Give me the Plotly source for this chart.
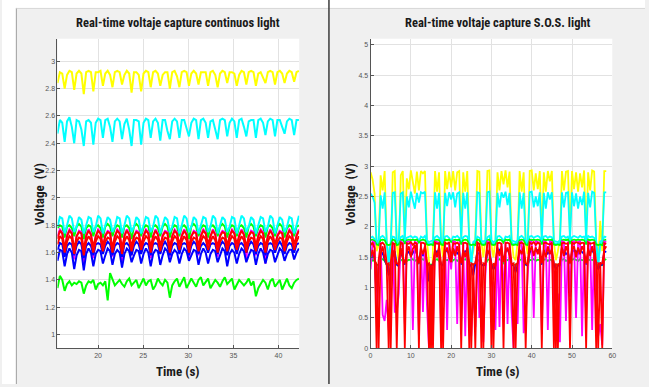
import plotly.graph_objects as go

# ---------------- continuous light capture (left) ----------------
CONT_T0 = 15.5
CONT_DT = 0.265

cont_yellow = [2.84,2.92,2.91,2.80, 2.90,2.93,2.92,2.79, 2.91,2.93,2.91,2.76, 2.92,2.93,2.92,2.78,
               2.92,2.92,2.93,2.82, 2.91,2.93,2.90,2.81, 2.92,2.93,2.92,2.83, 2.90,2.93,2.91,2.77,
               2.92,2.92,2.90,2.78, 2.91,2.93,2.92,2.81, 2.92,2.93,2.91,2.82, 2.90,2.92,2.92,2.80,
               2.92,2.93,2.89,2.81, 2.92,2.93,2.92,2.82, 2.91,2.93,2.91,2.83, 2.92,2.92,2.92,2.82,
               2.92,2.93,2.90,2.81, 2.91,2.93,2.92,2.84, 2.92,2.92,2.91,2.82, 2.90,2.93,2.92,2.83,
               2.92,2.93,2.92,2.82, 2.91,2.92,2.88,2.84, 2.92,2.93,2.92,2.83, 2.92,2.93,2.91,2.84,
               2.91,2.93,2.92,2.85, 2.92,2.93]
cont_cyan_hi = [2.47,2.57,2.55,2.41, 2.56,2.59,2.52,2.40, 2.57,2.56,2.50,2.38, 2.56,2.57,2.55,2.39,
                2.55,2.58,2.57,2.44, 2.57,2.58,2.52,2.41, 2.56,2.58,2.56,2.43, 2.54,2.58,2.50,2.38,
                2.57,2.57,2.56,2.39, 2.55,2.58,2.57,2.44, 2.56,2.58,2.55,2.42, 2.57,2.57,2.49,2.43,
                2.56,2.58,2.56,2.44, 2.57,2.57,2.51,2.45, 2.55,2.58,2.57,2.43, 2.57,2.58,2.55,2.44,
                2.56,2.57,2.50,2.43, 2.57,2.58,2.57,2.45, 2.55,2.58,2.56,2.44, 2.57,2.58,2.52,2.45,
                2.56,2.57,2.57,2.44, 2.57,2.58,2.55,2.46, 2.56,2.58,2.57,2.45, 2.57,2.57,2.52,2.47,
                2.56,2.58,2.57,2.46, 2.57,2.57]
cont_cyan_lo = [1.79,1.86,1.85,1.74, 1.80,1.87,1.85,1.75, 1.79,1.86,1.84,1.74, 1.80,1.86,1.85,1.75,
                1.79,1.87,1.85,1.74, 1.80,1.86,1.84,1.75, 1.79,1.86,1.85,1.74, 1.80,1.87,1.85,1.75,
                1.79,1.86,1.84,1.74, 1.80,1.86,1.85,1.75, 1.79,1.87,1.85,1.74, 1.80,1.86,1.84,1.75,
                1.79,1.86,1.85,1.74, 1.80,1.87,1.85,1.75, 1.79,1.86,1.84,1.74, 1.80,1.86,1.85,1.75,
                1.79,1.87,1.85,1.74, 1.80,1.86,1.84,1.75, 1.79,1.86,1.85,1.74, 1.80,1.87,1.85,1.75,
                1.79,1.86,1.84,1.74, 1.80,1.86,1.85,1.75, 1.79,1.87,1.85,1.74, 1.80,1.86,1.84,1.75,
                1.79,1.86,1.85,1.74, 1.80,1.87]
cont_green_hi = [1.78,1.80,1.79,1.71, 1.79,1.80,1.78,1.72, 1.79,1.81,1.79,1.70, 1.78,1.80,1.79,1.72,
                 1.79,1.80,1.78,1.71, 1.79,1.81,1.79,1.72, 1.78,1.80,1.79,1.71, 1.79,1.80,1.78,1.70,
                 1.79,1.81,1.79,1.72, 1.78,1.80,1.79,1.71, 1.79,1.80,1.78,1.72, 1.79,1.81,1.79,1.71,
                 1.78,1.80,1.79,1.72, 1.79,1.80,1.78,1.70, 1.79,1.81,1.79,1.72, 1.78,1.80,1.79,1.71,
                 1.79,1.80,1.78,1.72, 1.79,1.81,1.79,1.71, 1.78,1.80,1.79,1.72, 1.79,1.80,1.78,1.71,
                 1.79,1.81,1.79,1.72, 1.78,1.80,1.79,1.71, 1.79,1.80,1.78,1.72, 1.79,1.81,1.79,1.71,
                 1.78,1.80,1.79,1.72, 1.79,1.80]
cont_magenta = [1.72,1.77,1.75,1.58, 1.73,1.77,1.75,1.55, 1.72,1.76,1.75,1.52, 1.73,1.77,1.74,1.56,
                1.72,1.77,1.75,1.60, 1.73,1.76,1.75,1.57, 1.72,1.77,1.75,1.54, 1.73,1.77,1.74,1.58,
                1.72,1.76,1.75,1.61, 1.73,1.77,1.75,1.56, 1.72,1.77,1.74,1.59, 1.73,1.76,1.75,1.57,
                1.72,1.77,1.75,1.60, 1.73,1.77,1.74,1.55, 1.72,1.76,1.75,1.58, 1.73,1.77,1.75,1.61,
                1.72,1.77,1.74,1.57, 1.73,1.76,1.75,1.59, 1.72,1.77,1.75,1.60, 1.73,1.77,1.74,1.56,
                1.72,1.76,1.75,1.58, 1.73,1.77,1.75,1.52, 1.72,1.77,1.74,1.60, 1.73,1.76,1.75,1.59,
                1.72,1.77,1.75,1.61, 1.73,1.77]
cont_blue_hi = [1.62,1.67,1.66,1.57, 1.65,1.67,1.66,1.58, 1.65,1.68,1.66,1.56, 1.65,1.67,1.65,1.58,
                1.66,1.67,1.66,1.59, 1.65,1.68,1.66,1.58, 1.65,1.67,1.66,1.57, 1.66,1.67,1.65,1.58,
                1.65,1.68,1.66,1.59, 1.65,1.67,1.66,1.58, 1.66,1.67,1.66,1.59, 1.65,1.68,1.65,1.58,
                1.65,1.67,1.66,1.59, 1.66,1.67,1.66,1.58, 1.65,1.68,1.66,1.59, 1.65,1.67,1.65,1.60,
                1.66,1.67,1.66,1.59, 1.65,1.68,1.66,1.58, 1.65,1.67,1.66,1.59, 1.66,1.67,1.65,1.60,
                1.65,1.68,1.66,1.59, 1.65,1.67,1.66,1.58, 1.66,1.67,1.66,1.60, 1.65,1.68,1.65,1.59,
                1.65,1.67,1.66,1.60, 1.66,1.67]
cont_blue_lo = [1.54,1.62,1.61,1.50, 1.59,1.63,1.60,1.48, 1.58,1.62,1.61,1.47, 1.59,1.63,1.60,1.50,
                1.59,1.62,1.61,1.52, 1.58,1.63,1.61,1.51, 1.59,1.62,1.60,1.49, 1.59,1.63,1.61,1.53,
                1.58,1.62,1.61,1.52, 1.59,1.63,1.60,1.50, 1.59,1.62,1.61,1.51, 1.58,1.63,1.61,1.53,
                1.59,1.62,1.60,1.52, 1.59,1.63,1.61,1.54, 1.58,1.62,1.61,1.51, 1.59,1.63,1.60,1.52,
                1.59,1.62,1.61,1.53, 1.58,1.63,1.61,1.50, 1.59,1.62,1.60,1.52, 1.59,1.63,1.61,1.53,
                1.58,1.62,1.61,1.51, 1.59,1.63,1.60,1.52, 1.59,1.62,1.61,1.53, 1.58,1.63,1.61,1.54,
                1.59,1.62,1.62,1.55, 1.60,1.63]
cont_red_lo = [1.66,1.72,1.70,1.60, 1.68,1.72,1.70,1.59, 1.68,1.71,1.70,1.58, 1.68,1.72,1.69,1.60,
               1.68,1.72,1.70,1.61, 1.68,1.71,1.70,1.60, 1.68,1.72,1.70,1.59, 1.68,1.72,1.69,1.61,
               1.68,1.71,1.70,1.62, 1.68,1.72,1.70,1.60, 1.68,1.72,1.69,1.61, 1.68,1.71,1.70,1.60,
               1.68,1.72,1.70,1.62, 1.68,1.72,1.69,1.60, 1.68,1.71,1.70,1.61, 1.68,1.72,1.70,1.62,
               1.68,1.72,1.69,1.60, 1.68,1.71,1.70,1.61, 1.68,1.72,1.70,1.62, 1.68,1.72,1.69,1.60,
               1.68,1.71,1.70,1.61, 1.68,1.72,1.70,1.60, 1.68,1.72,1.69,1.62, 1.68,1.71,1.70,1.61,
               1.68,1.72,1.70,1.62, 1.68,1.72]
cont_red_hi = [1.70,1.76,1.74,1.63, 1.72,1.76,1.74,1.62, 1.72,1.75,1.74,1.62, 1.72,1.76,1.73,1.64,
               1.72,1.76,1.74,1.65, 1.72,1.75,1.74,1.63, 1.72,1.76,1.74,1.63, 1.72,1.76,1.73,1.64,
               1.72,1.75,1.74,1.65, 1.72,1.76,1.74,1.64, 1.72,1.76,1.73,1.65, 1.72,1.75,1.74,1.64,
               1.72,1.76,1.74,1.66, 1.72,1.76,1.73,1.64, 1.72,1.75,1.74,1.65, 1.72,1.76,1.74,1.66,
               1.72,1.76,1.73,1.64, 1.72,1.75,1.74,1.65, 1.72,1.76,1.74,1.66, 1.72,1.76,1.73,1.64,
               1.72,1.75,1.74,1.65, 1.72,1.76,1.74,1.64, 1.72,1.76,1.73,1.66, 1.72,1.75,1.74,1.65,
               1.72,1.76,1.74,1.66, 1.72,1.76]
cont_green_lo = [1.34,1.43,1.40,1.32,1.37,1.39,1.36,1.38,1.37,1.39,
                 1.38,1.30,1.36,1.39,1.38,1.40,1.33,1.37,1.38,1.36,
                 1.39,1.25,1.45,1.40,1.36,1.38,1.40,1.37,1.35,1.39,
                 1.41,1.36,1.38,1.40,1.34,1.37,1.41,1.36,1.39,1.40,
                 1.33,1.36,1.41,1.38,1.36,1.40,1.38,1.27,1.36,1.39,
                 1.41,1.35,1.38,1.42,1.34,1.37,1.41,1.38,1.35,1.40,
                 1.42,1.36,1.39,1.41,1.34,1.37,1.40,1.38,1.35,1.39,
                 1.42,1.37,1.39,1.41,1.33,1.36,1.40,1.38,1.36,1.38,
                 1.41,1.36,1.39,1.28,1.34,1.37,1.40,1.38,1.33,1.39,
                 1.41,1.35,1.38,1.40,1.33,1.37,1.41,1.36,1.34,1.38,
                 1.40,1.41]

# ---------------- S.O.S. light capture (right) ----------------
SOS_T0 = 0.0
SOS_DT = 0.5

sos_yellow = [2.90,2.78,2.55,1.60,1.70,2.85,2.60,2.92,1.75,1.50,
              1.45,2.90,2.92,1.70,1.40,2.85,2.92,1.80,2.80,2.62,
              2.93,2.70,2.55,2.91,2.60,2.92,2.88,2.92,1.75,1.45,
              0.00,1.70,2.92,2.58,2.90,1.75,1.50,2.92,2.62,2.91,
              2.65,2.92,2.60,2.90,2.92,1.80,2.90,2.58,2.92,1.75,
              1.45,1.60,1.80,2.92,2.91,1.75,1.50,1.80,2.92,2.93,
              1.70,1.50,1.78,2.90,2.60,2.92,2.70,2.93,2.65,2.91,
              1.80,1.50,1.45,1.75,2.92,2.58,2.90,1.75,1.55,2.92,
              2.93,2.60,2.88,2.62,2.92,1.80,2.90,2.58,2.92,2.75,
              2.92,1.75,1.45,1.60,1.80,2.92,2.60,2.91,2.92,1.85,
              2.92,2.62,2.90,2.58,2.88,2.65,2.93,1.80,2.90,2.60,
              2.93,2.91,1.75,1.45,2.10,1.60,2.92,2.92]
sos_cyan_hi = [2.55,2.50,2.40,1.75,1.78,2.52,2.30,2.57,1.78,1.35,
               1.75,2.56,2.57,1.76,1.78,2.55,2.57,1.80,2.50,2.32,
               2.58,2.45,2.30,2.56,2.40,2.57,2.55,2.58,1.78,1.75,
               1.76,1.78,2.57,2.30,2.56,1.77,1.76,2.56,2.34,2.57,
               2.45,2.57,2.32,2.55,2.57,1.80,2.56,2.30,2.57,1.78,
               1.40,1.75,1.78,2.57,2.56,1.77,1.76,1.78,2.57,2.58,
               1.78,1.75,1.77,2.56,2.32,2.57,2.48,2.58,2.36,2.56,
               1.78,1.76,1.75,1.78,2.57,2.30,2.56,1.77,1.76,2.57,
               2.58,2.32,2.50,2.34,2.57,1.78,2.56,2.30,2.57,2.45,
               2.57,1.77,1.76,1.75,1.78,2.57,2.32,2.56,2.57,1.80,
               2.57,2.34,2.55,2.30,2.50,2.36,2.58,1.78,2.56,2.32,
               2.58,2.56,1.77,1.35,1.76,1.78,2.57,2.57]
sos_cyan_lo = [1.82,1.84,1.80,1.74,1.73,1.83,1.85,1.82,1.74,1.45,
               1.73,1.84,1.83,1.74,1.72,1.83,1.85,1.75,1.82,1.84,
               1.85,1.82,1.84,1.83,1.76,1.84,1.82,1.85,1.74,1.73,
               1.72,1.74,1.83,1.85,1.82,1.74,1.73,1.84,1.85,1.82,
               1.76,1.84,1.83,1.85,1.82,1.74,1.83,1.85,1.84,1.74,
               1.40,1.73,1.74,1.84,1.82,1.74,1.72,1.74,1.83,1.85,
               1.74,1.72,1.73,1.84,1.85,1.82,1.76,1.84,1.83,1.85,
               1.74,1.72,1.73,1.74,1.83,1.85,1.82,1.74,1.73,1.84,
               1.85,1.82,1.84,1.85,1.83,1.74,1.84,1.85,1.82,1.84,
               1.83,1.74,1.72,1.73,1.74,1.84,1.85,1.82,1.84,1.75,
               1.83,1.85,1.84,1.82,1.85,1.83,1.84,1.74,1.85,1.83,
               1.84,1.82,1.74,1.38,1.72,1.74,1.84,1.83]
sos_green_hi = [1.78,1.79,1.77,1.71,1.70,1.78,1.79,1.78,1.71,1.70,
                1.71,1.79,1.78,1.70,1.71,1.78,1.79,1.72,1.78,1.79,
                1.78,1.79,1.78,1.79,1.74,1.78,1.79,1.78,1.71,1.70,
                1.71,1.70,1.78,1.79,1.78,1.71,1.70,1.79,1.78,1.79,
                1.75,1.78,1.79,1.78,1.79,1.71,1.78,1.79,1.78,1.71,
                1.70,1.71,1.70,1.79,1.78,1.71,1.70,1.71,1.78,1.79,
                1.71,1.70,1.71,1.78,1.79,1.78,1.74,1.79,1.78,1.79,
                1.71,1.70,1.71,1.70,1.78,1.79,1.78,1.71,1.70,1.79,
                1.78,1.79,1.78,1.79,1.78,1.71,1.79,1.78,1.79,1.78,
                1.79,1.71,1.70,1.71,1.70,1.78,1.79,1.78,1.79,1.73,
                1.78,1.79,1.78,1.79,1.78,1.79,1.78,1.71,1.79,1.78,
                1.79,1.78,1.71,1.70,1.71,1.70,1.78,1.79]
sos_green_lo = [1.42,1.45,1.44,1.38,1.37,1.45,1.47,1.44,1.38,1.37,
                1.38,1.46,1.44,1.38,1.37,1.45,1.46,1.38,1.44,1.46,
                1.45,1.47,1.44,1.46,1.40,1.45,1.47,1.44,1.38,1.37,
                1.38,1.37,1.45,1.47,1.44,1.38,1.37,1.46,1.45,1.47,
                1.41,1.45,1.47,1.44,1.46,1.38,1.45,1.47,1.44,1.38,
                1.37,1.38,1.37,1.46,1.44,1.38,1.37,1.38,1.45,1.47,
                1.38,1.37,1.38,1.45,1.47,1.44,1.40,1.46,1.45,1.47,
                1.38,1.37,1.38,1.37,1.45,1.47,1.44,1.38,1.37,1.46,
                1.45,1.47,1.44,1.46,1.45,1.38,1.46,1.47,1.44,1.46,
                1.45,1.38,1.37,1.38,1.37,1.46,1.47,1.44,1.45,1.40,
                1.46,1.47,1.45,1.44,1.47,1.45,1.46,1.38,1.47,1.45,
                1.46,1.44,1.38,1.37,1.38,1.37,1.45,1.47]
sos_blue = [1.40,1.55,1.50,0.80,1.38,1.52,1.58,1.45,1.38,1.20,
            1.36,1.55,1.60,1.38,1.35,1.58,1.50,1.38,1.55,1.60,
            1.52,1.58,1.62,1.55,1.40,1.60,1.52,1.58,1.38,1.10,
            1.36,1.38,1.56,1.60,1.52,1.38,1.36,1.58,1.62,1.55,
            1.45,1.58,1.62,1.56,1.60,1.38,1.55,1.60,1.58,1.38,
            1.35,1.20,1.38,1.58,1.55,1.38,1.36,1.38,1.56,1.60,
            1.38,1.30,1.36,1.58,1.62,1.55,1.45,1.60,1.62,1.56,
            1.38,1.36,1.25,1.38,1.58,1.62,1.55,1.38,1.36,1.58,
            1.62,1.56,1.60,1.62,1.55,1.38,1.58,1.62,1.56,1.60,
            1.58,1.38,1.30,1.36,1.38,1.60,1.62,1.55,1.58,1.40,
            1.58,1.62,1.60,1.56,1.62,1.58,1.55,1.38,1.58,1.60,
            1.62,1.55,1.38,1.30,1.36,1.38,1.58,1.60]
sos_magenta = [1.30,1.76,1.74,0.50,1.20,1.75,0.55,0.45,0.80,0.30,
               1.10,1.76,0.60,0.60,0.90,1.76,1.74,0.40,1.75,1.76,
               1.74,0.30,1.75,1.74,0.20,1.76,0.60,1.74,0.70,0.00,
               1.20,0.30,1.76,1.75,1.74,0.25,1.10,1.76,0.30,1.74,
               1.30,1.76,1.75,0.40,1.76,0.45,1.75,0.20,1.74,0.60,
               0.20,1.00,0.35,1.76,0.50,0.70,0.10,1.20,1.76,1.74,
               0.50,1.10,0.30,1.75,0.35,1.74,0.80,1.76,0.40,1.74,
               0.60,0.00,1.00,0.40,1.75,1.76,0.25,0.55,1.20,1.76,
               1.75,0.50,1.76,1.75,1.74,0.30,1.76,1.75,0.30,1.76,
               1.75,0.70,0.20,0.90,0.10,1.76,1.75,0.45,1.76,0.85,
               1.75,1.76,0.50,1.75,1.76,0.20,1.75,0.50,1.76,1.74,
               0.30,1.76,0.60,0.20,0.40,0.05,1.76,1.75]
sos_red_lo = [1.50,1.62,1.45,1.38,0.00,1.55,1.68,1.48,1.38,1.40,
              0.00,1.62,1.50,1.40,1.38,1.65,1.48,1.40,1.58,1.68,
              1.50,1.64,1.70,1.52,1.40,1.66,1.55,1.68,1.38,1.40,
              0.00,1.40,1.62,1.50,1.68,1.40,0.00,1.58,1.66,1.50,
              1.42,1.65,1.52,1.68,1.55,1.40,1.62,1.50,1.66,0.00,
              1.40,1.38,1.40,1.60,1.68,0.00,1.40,1.38,1.62,1.55,
              1.40,0.00,1.40,1.66,1.52,1.68,1.42,1.58,1.66,1.50,
              1.38,1.40,0.00,1.40,1.62,1.55,1.68,1.40,1.38,1.60,
              1.68,1.52,1.66,1.55,1.68,1.40,1.62,1.50,1.68,1.55,
              1.64,1.40,0.00,1.38,1.40,1.66,1.52,1.68,1.58,1.40,
              1.62,1.68,1.50,1.66,1.55,1.68,1.60,1.40,1.65,1.52,
              1.68,1.55,0.00,1.40,1.38,1.40,1.62,1.68]
sos_red_hi = [1.70,1.74,1.65,0.00,1.45,1.72,1.74,1.70,1.40,0.00,
              1.40,1.73,1.72,0.00,1.40,1.74,1.72,0.00,1.73,1.72,
              1.75,1.70,1.74,1.72,0.00,1.73,1.74,1.72,1.40,0.00,
              1.38,0.00,1.74,1.72,1.73,0.00,1.42,1.74,1.72,1.75,
              1.45,1.73,1.72,1.74,1.71,0.00,1.73,1.74,1.72,1.40,
              0.00,1.38,0.00,1.74,1.72,1.40,0.00,1.42,1.73,1.74,
              0.00,1.40,1.35,1.73,1.74,1.72,0.00,1.73,1.74,1.72,
              1.40,0.00,1.38,1.40,1.73,1.74,1.72,0.00,1.42,1.74,
              1.72,1.75,1.70,1.74,1.72,0.00,1.73,1.74,1.72,1.71,
              1.74,0.00,1.40,0.00,1.38,1.73,1.74,1.72,1.73,0.00,
              1.74,1.72,1.75,1.73,1.72,1.74,1.73,0.00,1.74,1.72,
              1.73,1.74,1.40,0.00,1.42,0.00,1.73,1.72]

YELLOW, CYAN, GREEN, MAGENTA, RED, BLUE = "#ffff00", "#00ffff", "#00ff00", "#ff00ff", "#ff0000", "#0000ff"

cont_series = [(cont_green_hi, GREEN), (cont_magenta, MAGENTA), (cont_blue_hi, BLUE), (cont_blue_lo, BLUE),
               (cont_red_lo, RED), (cont_red_hi, RED), (cont_cyan_lo, CYAN), (cont_green_lo, GREEN),
               (cont_yellow, YELLOW), (cont_cyan_hi, CYAN)]
sos_series = [(sos_yellow, YELLOW), (sos_cyan_hi, CYAN), (sos_cyan_lo, CYAN), (sos_green_hi, GREEN),
              (sos_green_lo, GREEN), (sos_blue, BLUE), (sos_magenta, MAGENTA), (sos_red_lo, RED),
              (sos_red_hi, RED)]

fig = go.Figure()
for vals, col in cont_series:
    fig.add_trace(go.Scatter(x=[CONT_T0 + CONT_DT * i for i in range(len(vals))], y=vals, mode="lines",
                             line=dict(color=col, width=2), xaxis="x", yaxis="y",
                             showlegend=False, hoverinfo="skip"))
for vals, col in sos_series:
    fig.add_trace(go.Scatter(x=[SOS_T0 + SOS_DT * i for i in range(len(vals))], y=vals, mode="lines",
                             line=dict(color=col, width=1.8), xaxis="x2", yaxis="y2",
                             showlegend=False, hoverinfo="skip"))

W, H = 649, 387
def px(x): return x / W
def py(y): return 1 - y / H

TICKFONT = dict(family="Liberation Sans, Arial", size=7, color="#555555")
axis_common = dict(showgrid=True, gridcolor="#e2e2e2", gridwidth=1, showline=True, linecolor="#555555",
                   linewidth=1, ticks="inside", ticklen=3, tickcolor="#555555", tickfont=TICKFONT,
                   zeroline=False, fixedrange=True)

left_y_ticks = [1, 1.2, 1.4, 1.6, 1.8, 2, 2.2, 2.4, 2.6, 2.8, 3]
right_y_ticks = [0, 0.5, 1, 1.5, 2, 2.5, 3, 3.5, 4, 4.5, 5]

fig.update_layout(
    width=W, height=H, margin=dict(l=0, r=0, t=0, b=0),
    paper_bgcolor="#f0f0f0", plot_bgcolor="#ffffff",
    xaxis=dict(domain=[px(56), px(300)], range=[15.5, 42.3], tickvals=[20, 25, 30, 35, 40],
               anchor="y", **axis_common),
    yaxis=dict(domain=[py(351), py(39)], range=[0.9, 3.165], tickvals=left_y_ticks,
               ticktext=[f"{v:g}" for v in left_y_ticks], anchor="x", **axis_common),
    xaxis2=dict(domain=[px(372), px(616)], range=[0, 60], tickvals=[0, 10, 20, 30, 40, 50, 60],
                anchor="y2", **axis_common),
    yaxis2=dict(domain=[py(351), py(39)], range=[0, 5.1], tickvals=right_y_ticks,
                ticktext=[f"{v:g}" for v in right_y_ticks], anchor="x2", **axis_common),
)

shapes = [
    dict(type="rect", xref="paper", yref="paper", x0=0, x1=px(14), y0=0, y1=1,
         fillcolor="#ffffff", line=dict(width=0), layer="below"),
    dict(type="rect", xref="paper", yref="paper", x0=0, x1=1, y0=py(8), y1=1,
         fillcolor="#ffffff", line=dict(width=0), layer="below"),
    dict(type="line", xref="paper", yref="paper", x0=px(14.5), x1=px(14.5), y0=0, y1=py(8),
         line=dict(color="#a0a0a0", width=1)),
    dict(type="line", xref="paper", yref="paper", x0=px(14.5), x1=1, y0=py(8.5), y1=py(8.5),
         line=dict(color="#d8d8d8", width=1)),
    dict(type="line", xref="paper", yref="paper", x0=px(330), x1=px(330), y0=0, y1=1,
         line=dict(color="#3c3c3c", width=1.5)),
]
fig.update_layout(shapes=shapes)

TITLE_FONT = dict(family="Liberation Sans Narrow, Roboto Condensed, Roboto", size=12.5, color="#1a1a1a")
LABEL_FONT = dict(family="Liberation Sans Narrow, Roboto Condensed, Roboto", size=13, color="#1a1a1a")
ann = [
    dict(text="<b>Real-time voltaje capture continuos light</b>", x=px(178), y=py(23), font=TITLE_FONT),
    dict(text="<b>Real-time voltaje capture S.O.S. light</b>", x=px(501), y=py(23), font=TITLE_FONT),
    dict(text="<b>Voltage  (V)</b>", x=px(38), y=py(196), textangle=-90, font=LABEL_FONT),
    dict(text="<b>Voltage  (V)</b>", x=px(352), y=py(196), textangle=-90, font=LABEL_FONT),
    dict(text="<b>Time (s)</b>", x=px(178), y=py(374), font=LABEL_FONT),
    dict(text="<b>Time (s)</b>", x=px(501), y=py(374), font=LABEL_FONT),
]
for a in ann:
    a.update(xref="paper", yref="paper", showarrow=False, xanchor="center", yanchor="middle")
fig.update_layout(annotations=ann)

fig.write_html("out.html")
